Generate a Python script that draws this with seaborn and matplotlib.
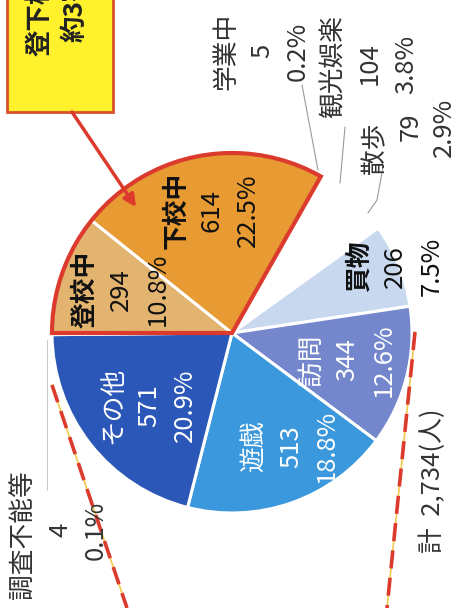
import numpy as np
import seaborn as sns
import matplotlib as mpl
mpl.use('Agg')
from matplotlib import pyplot as plt
from matplotlib.patches import Wedge, Rectangle

# values (clockwise from the left)
labels = ['登校中', '下校中', '学業中', '観光娯楽', '散歩', '買物', '訪問', '遊戯', 'その他', '調査不能等']
counts = [294, 614, 5, 104, 79, 206, 344, 513, 571, 4]
pcts = ['10.8%', '22.5%', '0.2%', '3.8%', '2.9%', '7.5%', '12.6%', '18.8%', '20.9%', '0.1%']
total_text = '計  2,734(人)'
callout = ['登下校中', '約3割']

# styles
colors = ['#e3b46f', '#e89a33', '#ffffff', '#ffffff', '#ffffff',
          '#c8d9ef', '#7487cc', '#3b98dc', '#2b57b8', '#ffffff']
RED = '#dc3a2c'
GREY = '#333333'

sns.set_theme(style='white')
plt.rcParams['font.family'] = ['Noto Sans CJK JP', 'DejaVu Sans']

W, H = 459, 608
FS = 18.5
PITCH = 36

fig = plt.figure(figsize=(W / 100, H / 100), dpi=100)
ax = fig.add_axes([0, 0, 1, 1])

cx, cy, R = 232, H - 333, 180
wedges, _ = ax.pie(counts, colors=colors, startangle=180, counterclock=False,
                   center=(cx, cy), radius=R,
                   wedgeprops=dict(edgecolor='white', linewidth=2.2))
ax.set_xlim(0, W)
ax.set_ylim(0, H)
ax.set_aspect('equal')
ax.axis('off')

# red outline round 登校中 + 下校中
ax.add_patch(Wedge((cx, cy), R, wedges[1].theta1, wedges[0].theta2,
                   fill=False, edgecolor=RED, linewidth=3, zorder=5))


def rtext(x, y, s, color=GREY, weight='normal', size=FS):
    # x, y in pixels from the top-left corner
    ax.text(x, H - y, s, rotation=90, ha='center', va='center',
            color=color, fontsize=size, fontweight=weight, zorder=6)


# labels inside the wedges: index -> (radius fraction, angle shift, colour, weight)
inner = {0: (0.66, -2, '#111111', 'bold'),
         1: (0.69, -1.5, '#111111', 'bold'),
         5: (0.98, 0, '#111111', 'bold'),
         6: (0.66, 1, 'white', 'normal'),
         7: (0.71, 8, 'white', 'normal'),
         8: (0.61, 3, 'white', 'normal')}
for i, (frac, dth, col, wt) in inner.items():
    w = wedges[i]
    th = np.deg2rad((w.theta1 + w.theta2) / 2 + dth)
    x = cx + frac * R * np.cos(th)
    y = H - (cy + frac * R * np.sin(th))
    for k, s in enumerate([labels[i], str(counts[i]), pcts[i]]):
        rtext(x + (k - 1) * PITCH, y, s, color=col,
              weight=wt if k == 0 else 'normal')

# small slices, labelled outside: index -> (x of middle line, y of name, y of numbers)
outer = {2: (262, 51, 51), 3: (370, 67, 64), 4: (411, 148, 127), 9: (60, 535, 530)}
for i, (x, yn, yv) in outer.items():
    rtext(x - PITCH, yn, labels[i])
    rtext(x, yv, str(counts[i]))
    rtext(min(x + PITCH, 444), yv, pcts[i])

rtext(433, 481, total_text)

# leader lines
lc = dict(color='#9a9a9a', linewidth=0.8, zorder=4)
ax.plot([302, 318], [H - 85, H - 170], **lc)
ax.plot([345, 340], [H - 127, H - 183], **lc)
ax.plot([383, 377, 368], [H - 167, H - 200, H - 213], **lc)
ax.plot([47, 47], [H - 340, H - 490], color='#c8c8c8', linewidth=0.7, zorder=4)

# dashed callout lines
for xs, ys in [([52, 127], [385, 608]), ([415, 387], [332, 608])]:
    yy = [H - v for v in ys]
    ax.plot(xs, yy, color='#f2c84a', linewidth=1.2, zorder=3)
    ax.plot(xs, yy, color=RED, linewidth=2.6, dashes=(5, 2.6), zorder=3)

# yellow callout box (runs off the top edge, as in the scan) and arrow
ax.add_patch(Rectangle((7, H - 112), 106, 130, facecolor='#fff22d',
                       edgecolor='#d9502a', linewidth=2, zorder=7))
ax.text(40, H - 3, callout[0], rotation=90, ha='center', va='center',
        fontsize=19, fontweight='bold', color='#222222', zorder=8)
ax.text(75, H - 8, callout[1], rotation=90, ha='center', va='center',
        fontsize=19, fontweight='bold', color='#222222', zorder=8)
ax.annotate('', xy=(136, H - 207), xytext=(72, H - 112),
            arrowprops=dict(arrowstyle='-|>', color=RED, lw=2.5,
                            mutation_scale=18, shrinkA=0, shrinkB=0),
            zorder=8)

plt.savefig('out.png', dpi=100)
